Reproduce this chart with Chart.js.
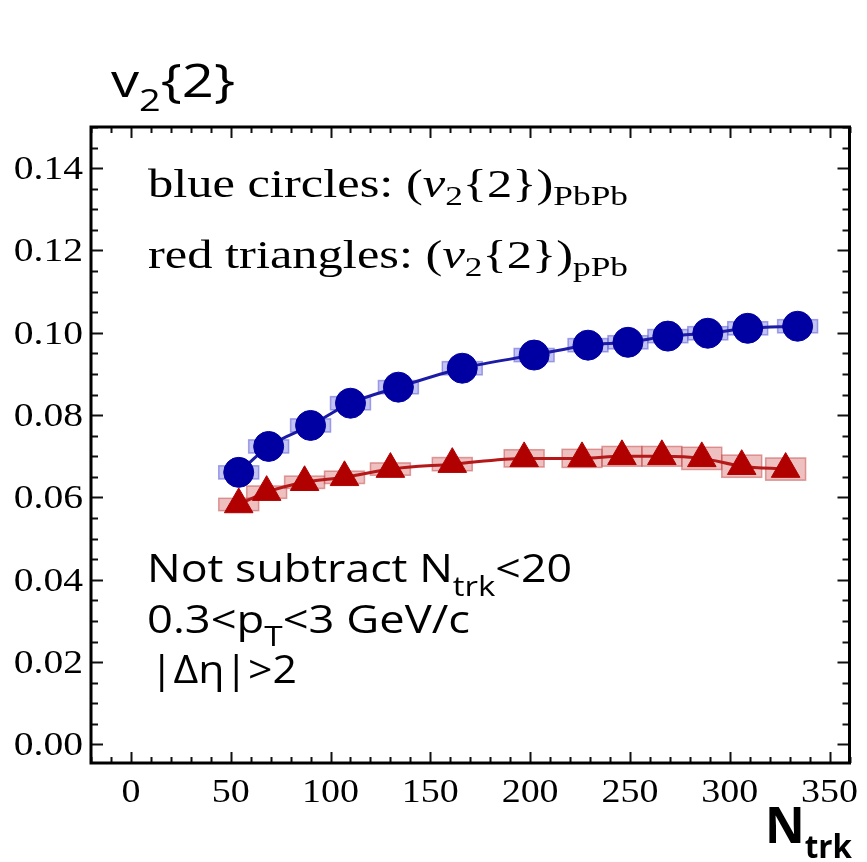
<!DOCTYPE html>
<html>
<head>
<meta charset="utf-8">
<title>v2{2} vs Ntrk</title>
<script src="https://cdn.jsdelivr.net/npm/chart.js@4/dist/chart.umd.min.js"></script>
<style>
  html, body { margin: 0; padding: 0; background: #ffffff; }
  #wrap { width: 867px; height: 862px; }
</style>
</head>
<body>
<div id="wrap"><canvas id="v2Chart" width="867" height="862"></canvas></div>
<script>
    // PbPb points (blue circles)
    const nPbPb = [54, 69, 90, 110, 134, 166, 202, 229, 249, 269, 289, 309, 334];
    const v2PbPb = [0.0661, 0.0724, 0.0775, 0.0829, 0.0868, 0.0914, 0.0946, 0.0970, 0.0977, 0.0992, 0.0999, 0.1011, 0.1016];
    const sysPbPb = [0.0016, 0.0016, 0.0016, 0.0016, 0.0016, 0.0016, 0.0016, 0.0016, 0.0016, 0.0016, 0.0016, 0.0016, 0.0016];

    // pPb points (red triangles)
    const nPPb = [54, 68, 87, 107, 130, 161, 197, 226, 246, 266, 286, 306, 328];
    const v2PPb = [0.0583, 0.0613, 0.0637, 0.0649, 0.0669, 0.0681, 0.0695, 0.0695, 0.0700, 0.0700, 0.0695, 0.0676, 0.0669];
    const sysPPb = [0.0015, 0.0015, 0.0015, 0.0015, 0.0015, 0.0016, 0.0021, 0.0022, 0.0024, 0.0024, 0.0027, 0.0027, 0.0027];

    // half width of the systematic boxes along Ntrk
    const nBoxHalf = 10;

    const xTicks = [0, 50, 100, 150, 200, 250, 300, 350];
    const xTickLabels = ["0", "50", "100", "150", "200", "250", "300", "350"];
    const xMinorStep = 10;
    const yTicks = [0, 0.02, 0.04, 0.06, 0.08, 0.10, 0.12, 0.14];
    const yTickLabels = ["0.00", "0.02", "0.04", "0.06", "0.08", "0.10", "0.12", "0.14"];
    const yMinorStep = 0.005;

    const serif = "\"Liberation Serif\", serif";
    const sans = "\"Open Sans\", sans-serif";

    const toPoints = (xs, ys) => xs.map((x, i) => ({ x, y: ys[i] }));

    // draw a row of text pieces (for sub/superscripts), optionally squeezed/stretched to a width
    const drawRuns = (ctx, runs, x, y, opts = {}) => {
        let natural = 0;
        runs.forEach((r) => {
            ctx.font = r.font;
            r.w = ctx.measureText(r.text).width;
            natural += r.w;
        });
        const sx = opts.width ? opts.width / natural : (opts.stretch || 1);
        const total = natural * sx;
        let startX = x;
        if (opts.align === "right") startX = x - total;
        if (opts.align === "center") startX = x - total / 2;
        ctx.save();
        ctx.translate(startX, y);
        ctx.scale(sx, 1);
        ctx.textBaseline = "alphabetic";
        ctx.textAlign = "left";
        ctx.fillStyle = opts.color || "#000000";
        let cx = 0;
        runs.forEach((r) => {
            ctx.font = r.font;
            ctx.fillText(r.text, cx, r.dy || 0);
            cx += r.w;
        });
        ctx.restore();
    };

    const errorBoxes = {
        id: "errorBoxes",
        beforeDatasetsDraw(chart) {
            const { ctx, scales: { x, y } } = chart;
            chart.data.datasets.forEach((ds) => {
                if (!ds.sys) return;
                ctx.save();
                ctx.fillStyle = ds.boxFill;
                ctx.strokeStyle = ds.boxStroke;
                ctx.lineWidth = 1.5;
                ds.data.forEach((p, i) => {
                    const left = x.getPixelForValue(p.x - nBoxHalf);
                    const right = x.getPixelForValue(p.x + nBoxHalf);
                    const top = y.getPixelForValue(p.y + ds.sys[i]);
                    const bottom = y.getPixelForValue(p.y - ds.sys[i]);
                    ctx.fillRect(left, top, right - left, bottom - top);
                    ctx.strokeRect(left, top, right - left, bottom - top);
                });
                ctx.restore();
            });
        }
    };

    const frameAndText = {
        id: "frameAndText",
        afterDraw(chart) {
            const { ctx, chartArea: area, scales: { x, y } } = chart;
            ctx.save();

            // ticks on all four sides, pointing inwards
            ctx.strokeStyle = "#111111";
            ctx.lineWidth = 2;
            ctx.beginPath();
            for (let v = Math.ceil(x.min / xMinorStep) * xMinorStep; v <= x.max; v += xMinorStep) {
                const px = Math.round(x.getPixelForValue(v)) + 0.5;
                const len = v % 50 === 0 ? 11 : 6;
                ctx.moveTo(px, area.bottom);
                ctx.lineTo(px, area.bottom - len);
                ctx.moveTo(px, area.top);
                ctx.lineTo(px, area.top + len);
            }
            for (let k = Math.ceil(y.min / yMinorStep); k * yMinorStep <= y.max + 1e-9; k++) {
                const py = Math.round(y.getPixelForValue(k * yMinorStep)) + 0.5;
                const len = k % 4 === 0 ? 12 : 7;
                ctx.moveTo(area.left, py);
                ctx.lineTo(area.left + len, py);
                ctx.moveTo(area.right, py);
                ctx.lineTo(area.right - len, py);
            }
            ctx.stroke();

            // plot frame
            ctx.lineWidth = 3;
            ctx.strokeStyle = "#000000";
            ctx.strokeRect(area.left, area.top, area.right - area.left, area.bottom - area.top);

            // tick labels
            yTicks.forEach((v, i) => {
                drawRuns(ctx, [{ text: yTickLabels[i], font: `33px ${serif}` }],
                    area.left - 8, y.getPixelForValue(v) + 11, { align: "right", stretch: 1.2 });
            });
            xTicks.forEach((v, i) => {
                drawRuns(ctx, [{ text: xTickLabels[i], font: `33px ${serif}` }],
                    x.getPixelForValue(v), area.bottom + 39, { align: "center", stretch: 1.15 });
            });

            // series key inside the frame
            drawRuns(ctx, [
                { text: "blue circles: (", font: `40px ${serif}` },
                { text: "\u03bd", font: `italic 40px ${serif}` },
                { text: "2", font: `28px ${serif}`, dy: 8 },
                { text: "{2})", font: `40px ${serif}` },
                { text: "PbPb", font: `28px ${serif}`, dy: 8 }
            ], 148, 197, { width: 480 });
            drawRuns(ctx, [
                { text: "red triangles: (", font: `40px ${serif}` },
                { text: "\u03bd", font: `italic 40px ${serif}` },
                { text: "2", font: `28px ${serif}`, dy: 8 },
                { text: "{2})", font: `40px ${serif}` },
                { text: "pPb", font: `28px ${serif}`, dy: 8 }
            ], 148, 268, { width: 480 });

            // cuts used for this measurement
            drawRuns(ctx, [
                { text: "Not subtract N", font: `38px ${sans}` },
                { text: "trk", font: `28px ${sans}`, dy: 14 },
                { text: "<20", font: `38px ${sans}` }
            ], 147, 582, { width: 425 });
            drawRuns(ctx, [
                { text: "0.3<p", font: `38px ${sans}` },
                { text: "T", font: `28px ${sans}`, dy: 13 },
                { text: "<3 GeV/c", font: `38px ${sans}` }
            ], 147, 633, { width: 323 });
            drawRuns(ctx, [
                { text: "|\u0394\u03b7|>2", font: `38px ${sans}` }
            ], 150, 683, { width: 147 });

            // axis titles
            drawRuns(ctx, [
                { text: "v", font: `46px ${sans}` },
                { text: "2", font: `31px ${sans}`, dy: 14 },
                { text: "{2}", font: `46px ${sans}` }
            ], 111, 97, { width: 124 });
            drawRuns(ctx, [
                { text: "N", font: `bold 50px ${sans}` },
                { text: "trk", font: `bold 32px ${sans}`, dy: 15 }
            ], 765, 843, { width: 87 });

            ctx.restore();
        }
    };

    const buildChart = () => new Chart(document.getElementById("v2Chart"), {
        type: "scatter",
        data: {
            datasets: [
                {
                    label: "PbPb",
                    data: toPoints(nPbPb, v2PbPb),
                    sys: sysPbPb,
                    boxFill: "rgba(120, 120, 228, 0.45)",
                    boxStroke: "rgba(95, 95, 215, 0.55)",
                    showLine: true,
                    borderColor: "#1b1ba6",
                    borderWidth: 3,
                    tension: 0.3,
                    cubicInterpolationMode: "monotone",
                    pointStyle: "circle",
                    pointRadius: 15,
                    pointBackgroundColor: "#0000a2",
                    pointBorderColor: "#0000a2",
                    pointBorderWidth: 1
                },
                {
                    label: "pPb",
                    data: toPoints(nPPb, v2PPb),
                    sys: sysPPb,
                    boxFill: "rgba(210, 90, 90, 0.38)",
                    boxStroke: "rgba(195, 70, 70, 0.5)",
                    showLine: true,
                    borderColor: "#b41818",
                    borderWidth: 3,
                    tension: 0.3,
                    cubicInterpolationMode: "monotone",
                    pointStyle: "triangle",
                    pointRadius: 16.5,
                    pointBackgroundColor: "#b00000",
                    pointBorderColor: "#b00000",
                    pointBorderWidth: 1
                }
            ]
        },
        options: {
            responsive: false,
            animation: false,
            events: [],
            layout: {
                padding: { left: 91, right: 11, top: 127, bottom: 99 }
            },
            scales: {
                x: { type: "linear", display: false, min: -20, max: 360 },
                y: { type: "linear", display: false, min: -0.0045, max: 0.150 }
            },
            plugins: {
                legend: { display: false },
                tooltip: { enabled: false }
            }
        },
        plugins: [errorBoxes, frameAndText]
    });

    // make sure the named fonts are ready before the canvas text is drawn
    const fontsWanted = [
        "33px \"Liberation Serif\"",
        "italic 40px \"Liberation Serif\"",
        "38px \"Open Sans\"",
        "bold 50px \"Open Sans\""
    ];
    Promise.all(fontsWanted.map((f) => document.fonts.load(f, "0.1 N\u0394\u03b7\u03bd")))
        .catch(() => null)
        .then(buildChart);
</script>
</body>
</html>
